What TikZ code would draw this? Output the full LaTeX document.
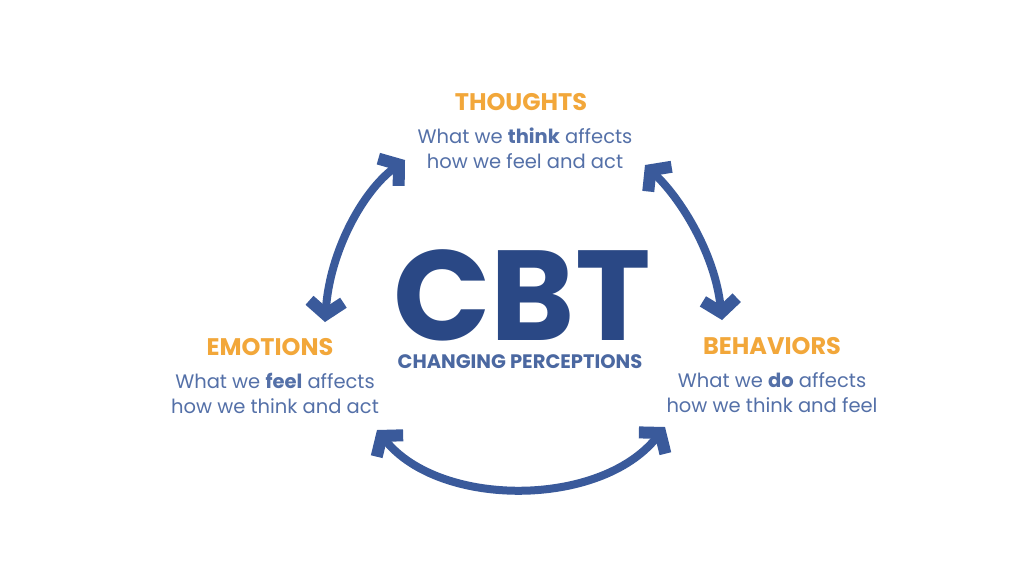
\documentclass[tikz,border=0pt]{standalone}
\usepackage{fontspec}
\setmainfont{Poppins}
\usepackage{tikz}
\usetikzlibrary{arrows.meta}

\definecolor{cbtblue}{HTML}{2A4885}
\definecolor{arrowblue}{HTML}{3A5A9B}
\definecolor{textblue}{HTML}{5470A8}
\definecolor{headorange}{HTML}{F2A73A}

\begin{document}
\begin{tikzpicture}[x=1pt,y=-1pt,
    title/.style={text=headorange, anchor=base, font=\fontsize{24}{28}\selectfont\bfseries},
    desc/.style={text=textblue, align=center, font=\fontsize{19.5}{25}\selectfont},
    cycle/.style={draw=arrowblue, line width=8pt,
        {Straight Barb[length=13pt,width=34pt,line width=12pt]}-{Straight Barb[length=13pt,width=34pt,line width=12pt]}}]

\useasboundingbox[fill=white] (0,0) rectangle (1024,576);

% centre
\node[text=cbtblue, anchor=base, inner sep=0pt, text depth=0pt, font=\fontsize{128}{130}\selectfont\bfseries] (cbt) at (522,340) {CBT};
\node[text=textblue!80!cbtblue, anchor=base, inner sep=1pt, font=\fontsize{19.5}{22}\selectfont\bfseries] (changing) at (520,368) {CHANGING PERCEPTIONS};

% the three corners
\node[title] (thoughts) at (521,110) {THOUGHTS};
\node[desc] (thoughtsdesc) at (525,148) {What we \textbf{think} affects\\how we feel and act};

\node[title] (emotions) at (270,355) {EMOTIONS};
\node[desc] (emotionsdesc) at (275,393) {What we \textbf{feel} affects\\how we think and act};

\node[title] (behaviors) at (772,354) {BEHAVIORS};
\node[desc] (behaviorsdesc) at (772,393) {What we \textbf{do} affects\\how we think and feel};

% arrow ends
\coordinate (tl) at (405,160);
\coordinate (bl) at (325,322);
\coordinate (tr) at (645,165);
\coordinate (br) at (722,320);
\coordinate (lb) at (377,430);
\coordinate (rb) at (665,427);

\draw[cycle] (tl) .. controls (362,192) and (330,252) .. (bl);
\draw[cycle] (tr) .. controls (682,200) and (715,255) .. (br);
\draw[cycle] (lb) .. controls (440,508) and (600,508) .. (rb);

\end{tikzpicture}
\end{document}
